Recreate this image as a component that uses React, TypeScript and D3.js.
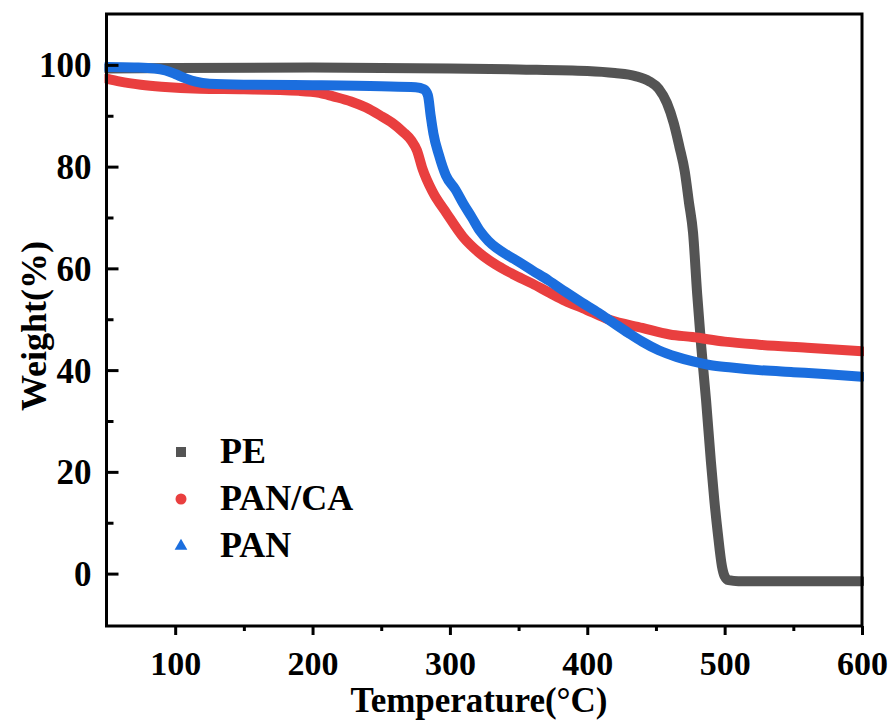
import { useRef, useEffect } from "react";
import * as d3 from "d3";

// PE (grey)
const peTemp = [50, 100, 200, 300, 350, 400, 420, 435, 445, 452, 458, 463, 467, 471, 474, 477, 480, 483, 486.5, 490, 492.5, 495, 498, 500, 503, 510, 600];
const peWeight = [99.3, 99.4, 99.5, 99.3, 99.1, 98.8, 98.4, 97.8, 96.8, 95.3, 92.5, 88.5, 84, 79, 73, 67, 55, 44.5, 34, 22, 14.4, 8, 1.5, -0.5, -1.3, -1.5, -1.5];

// PAN/CA (red)
const pancaTemp = [50, 60, 75, 90, 118, 150, 190, 205, 215, 228, 239, 249, 258, 266, 272, 276, 280, 287.5, 297.4, 309.5, 321.6, 333, 345.6, 360, 372.5, 384, 396.7, 416, 440, 460, 476.6, 500, 525, 560, 600];
const pancaWeight = [97.3, 96.7, 96.1, 95.7, 95.3, 95.2, 94.9, 94.5, 93.8, 92.8, 91.6, 90.1, 88.6, 86.8, 85.1, 83.2, 79.6, 75, 70.9, 66.2, 63, 60.8, 58.9, 57, 55.2, 53.6, 52.2, 49.9, 48.3, 47, 46.5, 45.6, 45, 44.4, 43.7];

// PAN (blue)
const panTemp = [50, 70, 85, 93, 100, 108, 115, 125, 150, 200, 250, 275, 281, 284, 286, 288, 292, 297, 304, 310, 316, 322, 328, 334, 342, 350, 360, 372, 384, 396, 408, 420, 430, 440, 452, 465, 477, 489, 505, 525, 550, 575, 600];
const panWeight = [99.6, 99.5, 99.3, 98.9, 98.2, 97.3, 96.7, 96.3, 96.1, 96.0, 95.8, 95.6, 95.2, 94, 90, 86.5, 82.3, 78.3, 75.5, 72.6, 70, 67.3, 65.4, 64, 62.6, 61.3, 59.6, 57.6, 55.4, 53.3, 51.3, 49.1, 47.3, 45.6, 43.9, 42.6, 41.7, 41, 40.5, 40, 39.6, 39.2, 38.7];

const seriesNames = ["PE", "PAN/CA", "PAN"];
const seriesColors = ["#545454", "#e93f3f", "#1b6ede"];

const xTicks = [100, 200, 300, 400, 500, 600];
const yTicks = [0, 20, 40, 60, 80, 100];

export default function App() {
  const ref = useRef<SVGSVGElement>(null);

  useEffect(() => {
    const w = 896;
    const h = 724;
    const left = 106.5, right = 862, top = 14, bottom = 626;
    const font = "'Liberation Serif', 'Times New Roman', serif";

    const svg = d3.select(ref.current);
    svg.selectAll("*").remove();
    svg.attr("width", w).attr("height", h);

    const x = d3.scaleLinear().domain([50, 600]).range([left, right]);
    const y = d3.scaleLinear().domain([-10.3, 110]).range([bottom, top]);

    const series = [
      { temp: peTemp, weight: peWeight },
      { temp: pancaTemp, weight: pancaWeight },
      { temp: panTemp, weight: panWeight },
    ];

    const line = d3
      .line<[number, number]>()
      .x((d) => x(d[0]))
      .y((d) => y(d[1]))
      .curve(d3.curveMonotoneX);

    const clip = svg.append("clipPath").attr("id", "plotclip");
    clip.append("rect").attr("x", left - 2).attr("y", top).attr("width", right - left + 4).attr("height", bottom - top);

    const g = svg.append("g").attr("clip-path", "url(#plotclip)");
    series.forEach((s, i) => {
      const pts = s.temp.map((t, j) => [t, s.weight[j]] as [number, number]);
      g.append("path")
        .attr("d", line(pts))
        .attr("fill", "none")
        .attr("stroke", seriesColors[i])
        .attr("stroke-width", 10)
        .attr("stroke-linejoin", "round")
        .attr("stroke-linecap", "round");
    });

    // x axis (ticks outward)
    const xAxis = d3
      .axisBottom(x)
      .tickValues(d3.range(100, 601, 50))
      .tickSize(0)
      .tickFormat(() => "");
    const xg = svg.append("g").attr("transform", `translate(0,${bottom})`).call(xAxis);
    xg.select(".domain").remove();
    xg.selectAll(".tick line")
      .attr("y2", (d: any) => (xTicks.includes(d) ? 9 : 5))
      .attr("stroke", "#000")
      .attr("stroke-width", 3);
    xg.selectAll(".tick text").remove();
    xg.selectAll(".tick")
      .filter((d: any) => xTicks.includes(d))
      .append("text")
      .text((d: any) => d)
      .attr("y", 49)
      .attr("text-anchor", "middle")
      .attr("fill", "#000")
      .attr("font-family", font)
      .attr("font-weight", "bold")
      .attr("font-size", "34px");

    // y axis (ticks inward)
    const yAxis = d3
      .axisLeft(y)
      .tickValues(d3.range(-10, 111, 10).filter((v) => v > -10 && v < 110))
      .tickSize(0)
      .tickFormat(() => "");
    const yg = svg.append("g").attr("transform", `translate(${left},0)`).call(yAxis);
    yg.select(".domain").remove();
    yg.selectAll(".tick line")
      .attr("x2", (d: any) => (yTicks.includes(d) ? 12 : 7))
      .attr("stroke", "#000")
      .attr("stroke-width", 3);
    yg.selectAll(".tick text").remove();
    yg.selectAll(".tick")
      .filter((d: any) => yTicks.includes(d))
      .append("text")
      .text((d: any) => d)
      .attr("x", -15)
      .attr("dy", "0.34em")
      .attr("text-anchor", "end")
      .attr("fill", "#000")
      .attr("font-family", font)
      .attr("font-weight", "bold")
      .attr("font-size", "35px");

    // frame
    svg.append("rect")
      .attr("x", left)
      .attr("y", top)
      .attr("width", right - left)
      .attr("height", bottom - top)
      .attr("fill", "none")
      .attr("stroke", "#000")
      .attr("stroke-width", 3);

    // axis titles
    svg.append("text")
      .text("Temperature(°C)")
      .attr("x", 479)
      .attr("y", 712)
      .attr("text-anchor", "middle")
      .attr("font-family", font)
      .attr("font-weight", "bold")
      .attr("font-size", "35px");

    svg.append("text")
      .text("Weight(%)")
      .attr("transform", "translate(46,326) rotate(-90)")
      .attr("text-anchor", "middle")
      .attr("font-family", font)
      .attr("font-weight", "bold")
      .attr("font-size", "36px");

    // legend
    const lg = svg.append("g");
    seriesNames.forEach((name, i) => {
      const cy = 452 + i * 47;
      const cx = 181;
      if (i === 0) {
        lg.append("rect").attr("x", cx - 5).attr("y", cy - 5).attr("width", 10).attr("height", 10).attr("fill", seriesColors[i]);
      } else if (i === 1) {
        lg.append("circle").attr("cx", cx).attr("cy", cy).attr("r", 5.5).attr("fill", seriesColors[i]);
      } else {
        lg.append("path")
          .attr("d", d3.symbol().type(d3.symbolTriangle).size(70)())
          .attr("transform", `translate(${cx},${cy})`)
          .attr("fill", seriesColors[i]);
      }
      lg.append("text")
        .text(name)
        .attr("x", 220)
        .attr("y", cy + 11)
        .attr("font-family", font)
        .attr("font-weight", "bold")
        .attr("font-size", "36px");
    });
  }, []);

  return (
    <svg
      ref={ref}
      style={{ position: "absolute", left: 0, top: 0, background: "#fff" }}
    ></svg>
  );
}
